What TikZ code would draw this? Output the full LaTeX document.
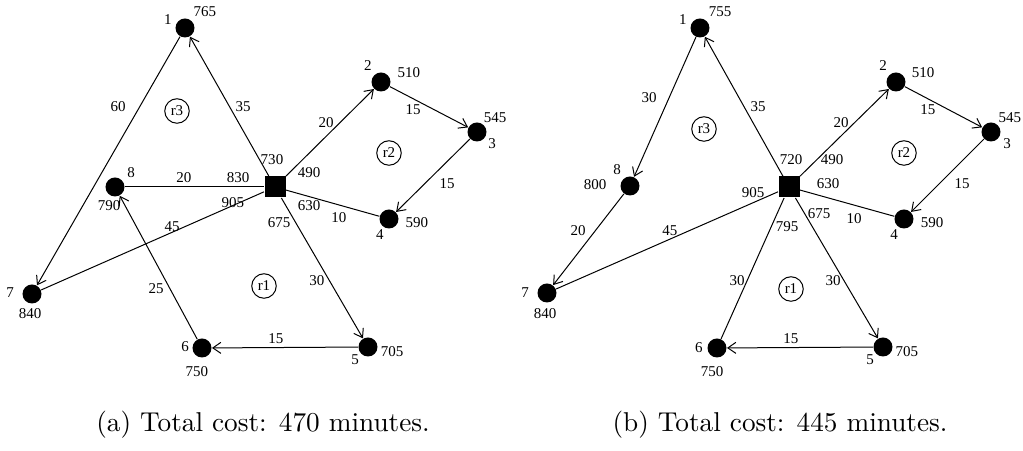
\documentclass[tikz,border=0pt]{standalone}
\usepackage{fontspec}
\newfontfamily\lblfont{Liberation Serif}
\usetikzlibrary{arrows.meta}

\begin{document}
\begin{tikzpicture}[x=0.4pt,y=-0.4pt,
  cust/.style={circle,fill=black,inner sep=0pt,minimum size=7.6pt},
  depot/.style={rectangle,fill=black,inner sep=0pt,minimum size=8.4pt},
  lab/.style={inner sep=0pt,font=\lblfont\fontsize{6}{7}\selectfont},
  routetag/.style={circle,draw,line width=0.4pt,inner sep=0pt,minimum size=9.8pt,
    font=\lblfont\fontsize{6}{7}\selectfont},
  edge/.style={line width=0.4pt},
  arc/.style={edge,-{Straight Barb[length=3.2pt,width=4.4pt]}},
  captxt/.style={inner sep=0pt,font=\fontsize{10.9}{13}\selectfont}
]
\useasboundingbox (0,0) rectangle (1023,451);

% ---------- left solution ----------
\node[depot] (aS) at (275,187) {};
\node[cust] (a1) at (185,28) {};
\node[cust] (a2) at (381,82) {};
\node[cust] (a3) at (477,132) {};
\node[cust] (a4) at (389,219) {};
\node[cust] (a5) at (368,347) {};
\node[cust] (a6) at (202,348) {};
\node[cust] (a7) at (32,294) {};
\node[cust] (a8) at (115,187) {};

\draw[arc] (aS) -- (a1);
\draw[arc] (a1) -- (a7);
\draw[edge] (a7) -- (aS);
\draw[arc] (aS) -- (a2);
\draw[arc] (a2) -- (a3);
\draw[arc] (a3) -- (a4);
\draw[edge] (a4) -- (aS);
\draw[arc] (aS) -- (a5);
\draw[arc] (a5) -- (a6);
\draw[arc] (a6) -- (a8);
\draw[edge] (a8) -- (aS);

\node[lab] (aid1) at (168,20) {1};
\node[lab] (at1) at (205,12) {765};
\node[lab] (aid2) at (368,66) {2};
\node[lab] (at2) at (409,73) {510};
\node[lab] (at3) at (495,118) {545};
\node[lab] (aid3) at (492,144) {3};
\node[lab] (at4) at (417,223) {590};
\node[lab] (aid4) at (380,235) {4};
\node[lab] (at5) at (392,352) {705};
\node[lab] (aid5) at (355,360) {5};
\node[lab] (aid6) at (185,347) {6};
\node[lab] (at6) at (197,372) {750};
\node[lab] (aid7) at (10,293) {7};
\node[lab] (at7) at (30,314) {840};
\node[lab] (aid8) at (131,173) {8};
\node[lab] (at8) at (109,206) {790};

\node[lab] (aw1) at (243,107) {35};
\node[lab] (aw2) at (118,107) {60};
\node[lab] (aw3) at (172,227) {45};
\node[lab] (aw4) at (326,123) {20};
\node[lab] (aw5) at (413,110) {15};
\node[lab] (aw6) at (447,184) {15};
\node[lab] (aw7) at (339,218) {10};
\node[lab] (aw8) at (317,281) {30};
\node[lab] (aw9) at (276,339) {15};
\node[lab] (aw10) at (156,289) {25};
\node[lab] (aw11) at (184,178) {20};

\node[lab] (ad1) at (272,160) {730};
\node[lab] (ad2) at (309,173) {490};
\node[lab] (ad3) at (238,178) {830};
\node[lab] (ad4) at (233,203) {905};
\node[lab] (ad5) at (309,206) {630};
\node[lab] (ad6) at (279,223) {675};

\node[routetag] (ar3) at (177,111) {r3};
\node[routetag] (ar2) at (389,153) {r2};
\node[routetag] (ar1) at (264,286) {r1};

\node[captxt] (acap) at (263,425) {(a) Total cost: 470 minutes.};

% ---------- right solution ----------
\node[depot] (bS) at (789,187) {};
\node[cust] (b1) at (700,28) {};
\node[cust] (b2) at (896,82) {};
\node[cust] (b3) at (991,132) {};
\node[cust] (b4) at (904,219) {};
\node[cust] (b5) at (883,347) {};
\node[cust] (b6) at (717,348) {};
\node[cust] (b7) at (547,293) {};
\node[cust] (b8) at (630,186) {};

\draw[arc] (bS) -- (b1);
\draw[arc] (b1) -- (b8);
\draw[arc] (b8) -- (b7);
\draw[edge] (b7) -- (bS);
\draw[arc] (bS) -- (b2);
\draw[arc] (b2) -- (b3);
\draw[arc] (b3) -- (b4);
\draw[edge] (b4) -- (bS);
\draw[arc] (bS) -- (b5);
\draw[arc] (b5) -- (b6);
\draw[edge] (b6) -- (bS);

\node[lab] (bid1) at (683,20) {1};
\node[lab] (bt1) at (720,12) {755};
\node[lab] (bid2) at (883,66) {2};
\node[lab] (bt2) at (923,73) {510};
\node[lab] (bt3) at (1010,118) {545};
\node[lab] (bid3) at (1007,144) {3};
\node[lab] (bt4) at (932,223) {590};
\node[lab] (bid4) at (894,235) {4};
\node[lab] (bt5) at (907,352) {705};
\node[lab] (bid5) at (870,360) {5};
\node[lab] (bid6) at (699,348) {6};
\node[lab] (bt6) at (712,372) {750};
\node[lab] (bid7) at (525,293) {7};
\node[lab] (bt7) at (545,314) {840};
\node[lab] (bid8) at (617,170) {8};
\node[lab] (bt8) at (595,185) {800};

\node[lab] (bw1) at (758,107) {35};
\node[lab] (bw2) at (649,98) {30};
\node[lab] (bw3) at (578,231) {20};
\node[lab] (bw4) at (670,231) {45};
\node[lab] (bw5) at (841,123) {20};
\node[lab] (bw6) at (928,110) {15};
\node[lab] (bw7) at (962,184) {15};
\node[lab] (bw8) at (854,219) {10};
\node[lab] (bw9) at (833,281) {30};
\node[lab] (bw10) at (791,339) {15};
\node[lab] (bw11) at (737,281) {30};

\node[lab] (bd1) at (791,160) {720};
\node[lab] (bd2) at (832,160) {490};
\node[lab] (bd3) at (828,184) {630};
\node[lab] (bd4) at (753,193) {905};
\node[lab] (bd5) at (819,214) {675};
\node[lab] (bd6) at (787,227) {795};

\node[routetag] (br3) at (704,129) {r3};
\node[routetag] (br2) at (904,153) {r2};
\node[routetag] (br1) at (791,289) {r1};

\node[captxt] (bcap) at (780,425) {(b) Total cost: 445 minutes.};
\end{tikzpicture}
\end{document}
